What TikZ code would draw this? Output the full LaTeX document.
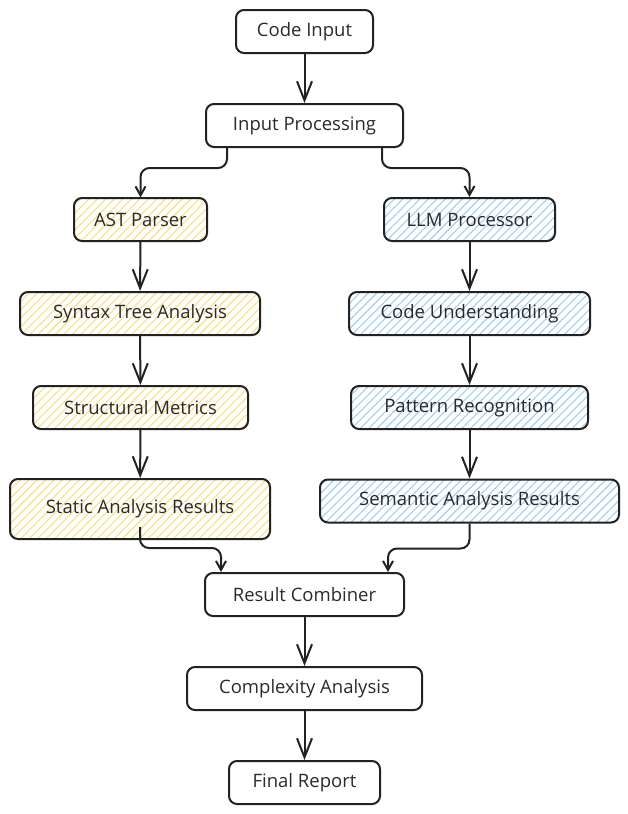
\documentclass[tikz,border=0pt]{standalone}
\usepackage{fontspec}
\setmainfont{Open Sans}
\usepackage{tikz}
\usetikzlibrary{arrows.meta, patterns.meta}

\definecolor{edgegray}{HTML}{222222}
\definecolor{textgray}{HTML}{2A2A2A}
\definecolor{hatchyellow}{HTML}{F9DF80}
\definecolor{hatchblue}{HTML}{9FCEF3}

\begin{document}
\begin{tikzpicture}[x=1pt, y=-1pt,
  box/.style={draw=edgegray, line width=2pt, rounded corners=8pt, minimum height=43pt, inner sep=0pt, anchor=center, align=center, text=textgray, font=\fontsize{18.5}{22}\selectfont},
  ast/.style={box, pattern={Lines[angle=45, distance=6pt, line width=1.1pt]}, pattern color=hatchyellow},
  llm/.style={box, pattern={Lines[angle=45, distance=6pt, line width=1.1pt]}, pattern color=hatchblue},
  flow/.style={draw=edgegray, line width=2pt, -{Straight Barb[length=19pt, width=15pt, line width=2pt]}},
  elbow/.style={flow, rounded corners=9pt, -{Straight Barb[length=9pt, width=10pt, line width=2pt]}}]
\useasboundingbox (0,0) rectangle (628,814);

\node[box, minimum width=137pt] (code) at (304.5,31.5) {Code Input};
\node[box, minimum width=197pt] (inproc) at (304.5,125.5) {Input Processing};

\node[ast, minimum width=133pt] (astp) at (140.5,219.5) {AST Parser};
\node[ast, minimum width=240pt] (syntax) at (140,313.5) {Syntax Tree Analysis};
\node[ast, minimum width=215pt] (metrics) at (140.5,407.5) {Structural Metrics};
\node[ast, minimum width=260pt, minimum height=60pt] (static) at (140,509) {Static Analysis Results};

\node[llm, minimum width=171pt] (llmp) at (469.5,219.5) {LLM Processor};
\node[llm, minimum width=241pt] (underst) at (469.5,313.5) {Code Understanding};
\node[llm, minimum width=237pt] (pattern) at (469.5,407.5) {Pattern Recognition};
\node[llm, minimum width=299pt] (semantic) at (469.5,501) {Semantic Analysis Results};

\node[box, minimum width=199pt] (comb) at (304.5,594.5) {Result Combiner};
\node[box, minimum width=235pt] (complex) at (304.5,688.5) {Complexity Analysis};
\node[box, minimum width=151pt] (final) at (304.5,782.5) {Final Report};

\draw[flow] (code) -- (inproc);
\draw[elbow] ([xshift=22pt]inproc.south west) -- ++(0,20) -| (astp.north);
\draw[elbow] ([xshift=-22pt]inproc.south east) -- ++(0,20) -| (llmp.north);
\draw[flow] (astp) -- (syntax);
\draw[flow] (syntax) -- (metrics);
\draw[flow] (metrics) -- (static);
\draw[flow] (llmp) -- (underst);
\draw[flow] (underst) -- (pattern);
\draw[flow] (pattern) -- (semantic);
\draw[elbow] ([yshift=-18pt]static.center) -- ++(0,21) -| ([xshift=17pt]comb.north west);
\draw[elbow] (semantic.south) -- ++(0,25) -| ([xshift=-17pt]comb.north east);
\draw[flow] (comb) -- (complex);
\draw[flow] (complex) -- (final);
\end{tikzpicture}
\end{document}
